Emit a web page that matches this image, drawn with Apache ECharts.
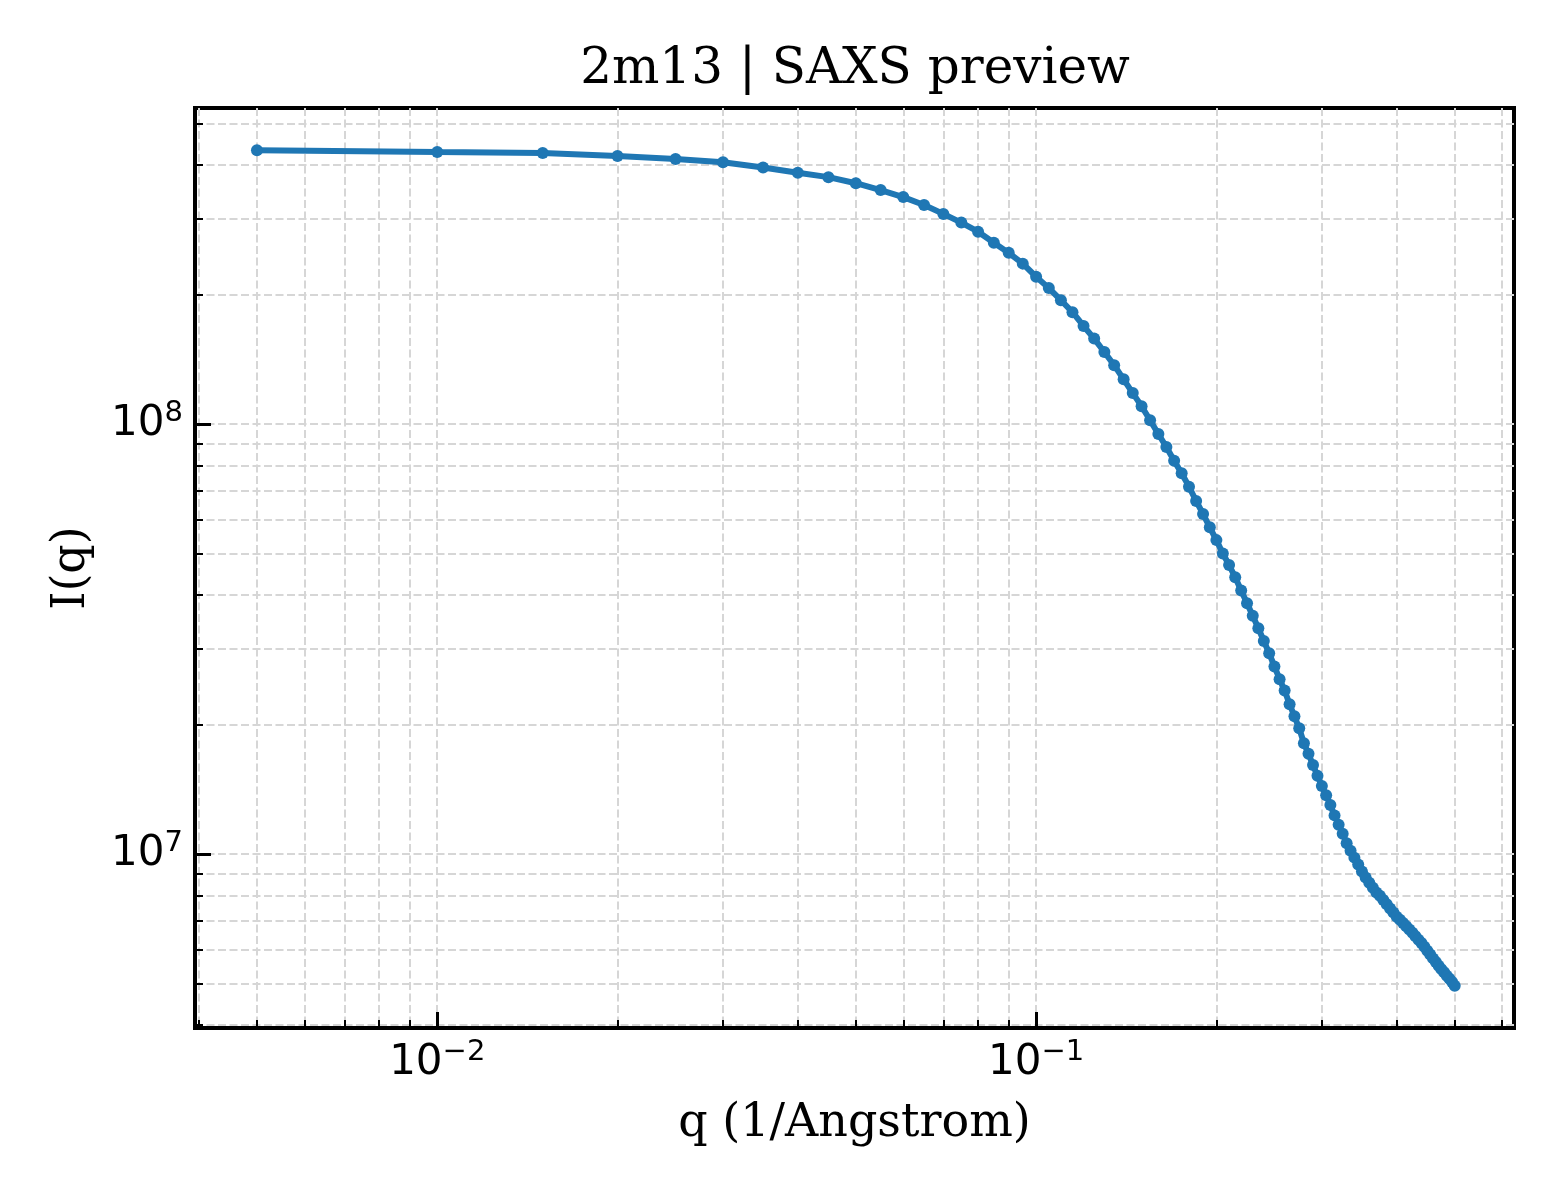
<!DOCTYPE html>
<html style="height: 100%">
<head>
    <meta charset="utf-8">
</head>
<body style="height: 100%; margin: 0; background: #fff">
    <div id="container" style="height: 100%"></div>
    <script type="text/javascript" src="https://cdn.jsdelivr.net/npm/echarts@6/dist/echarts.min.js"></script>
    <script type="text/javascript">
        // q in 1/Angstrom, I(q)
        var qValues = [
            0.005, 0.010, 0.015, 0.020, 0.025, 0.030, 0.035, 0.040, 0.045, 0.050,
            0.055, 0.060, 0.065, 0.070, 0.075, 0.080, 0.085, 0.090, 0.095, 0.100,
            0.105, 0.110, 0.115, 0.120, 0.125, 0.130, 0.135, 0.140, 0.145, 0.150,
            0.155, 0.160, 0.165, 0.170, 0.175, 0.180, 0.185, 0.190, 0.195, 0.200,
            0.205, 0.210, 0.215, 0.220, 0.225, 0.230, 0.235, 0.240, 0.245, 0.250,
            0.255, 0.260, 0.265, 0.270, 0.275, 0.280, 0.285, 0.290, 0.295, 0.300,
            0.305, 0.310, 0.315, 0.320, 0.325, 0.330, 0.335, 0.340, 0.345, 0.350,
            0.355, 0.360, 0.365, 0.370, 0.375, 0.380, 0.385, 0.390, 0.395, 0.400,
            0.405, 0.410, 0.415, 0.420, 0.425, 0.430, 0.435, 0.440, 0.445, 0.450,
            0.455, 0.460, 0.465, 0.470, 0.475, 0.480, 0.485, 0.490, 0.495, 0.500
        ];
        var intensity = [
            4.33e8, 4.29e8, 4.27e8, 4.20e8, 4.13e8, 4.06e8, 3.95e8, 3.84e8, 3.75e8, 3.63e8,
            3.50e8, 3.37e8, 3.23e8, 3.08e8, 2.94e8, 2.80e8, 2.64e8, 2.50e8, 2.36e8, 2.20e8,
            2.07e8, 1.94e8, 1.82e8, 1.69e8, 1.58e8, 1.47e8, 1.37e8, 1.27e8, 1.18e8, 1.10e8,
            1.02e8, 9.48e7, 8.84e7, 8.21e7, 7.68e7, 7.15e7, 6.62e7, 6.18e7, 5.75e7, 5.37e7,
            5.00e7, 4.70e7, 4.40e7, 4.10e7, 3.83e7, 3.58e7, 3.35e7, 3.13e7, 2.93e7, 2.73e7,
            2.55e7, 2.40e7, 2.23e7, 2.09e7, 1.96e7, 1.81e7, 1.71e7, 1.61e7, 1.52e7, 1.44e7,
            1.37e7, 1.30e7, 1.23e7, 1.17e7, 1.115e7, 1.06e7, 1.018e7, 9.81e6, 9.45e6, 9.11e6,
            8.82e6, 8.57e6, 8.35e6, 8.14e6, 8.00e6, 7.82e6, 7.64e6, 7.47e6, 7.31e6, 7.15e6,
            7.03e6, 6.91e6, 6.79e6, 6.68e6, 6.56e6, 6.44e6, 6.32e6, 6.21e6, 6.09e6, 5.96e6,
            5.84e6, 5.72e6, 5.61e6, 5.50e6, 5.40e6, 5.31e6, 5.21e6, 5.13e6, 5.04e6, 4.94e6
        ];

        var xRange = [0.00394, 0.628];
        var yRange = [3.94e6, 5.43e8];
        var xMajorTicks = [0.01, 0.1];
        var xMinorTicks = [0.004, 0.005, 0.006, 0.007, 0.008, 0.009,
            0.02, 0.03, 0.04, 0.05, 0.06, 0.07, 0.08, 0.09,
            0.2, 0.3, 0.4, 0.5, 0.6];
        var yMajorTicks = [1e7, 1e8];
        var yMinorTicks = [4e6, 5e6, 6e6, 7e6, 8e6, 9e6,
            2e7, 3e7, 4e7, 5e7, 6e7, 7e7, 8e7, 9e7,
            2e8, 3e8, 4e8, 5e8];

        var points = qValues.map(function (q, i) { return [q, intensity[i]]; });

        var serif = 'DejaVu Serif';
        var gridLine = { color: '#d6d6d6', width: 2, type: [8, 3.5] };
        var plotBox = { left: 195, top: 108, right: 46, bottom: 172 };

        function powLabel(v) {
            var e = Math.round(Math.log(v) / Math.LN10);
            return '{b|10}{sup|' + String(e).replace('-', '\u2212') + '}';
        }

        function logAxis(range, position, ticks, major, gridIndex) {
            return {
                type: 'log',
                logBase: 10,
                gridIndex: gridIndex,
                min: range[0],
                max: range[1],
                position: position,
                axisLine: { show: major, onZero: false, lineStyle: { color: '#000', width: 4 } },
                axisTick: {
                    show: true, inside: true, customValues: ticks,
                    length: major ? 16 : 8,
                    lineStyle: { color: '#000', width: major ? 3 : 2 }
                },
                axisLabel: {
                    show: major,
                    customValues: ticks,
                    margin: position === 'bottom' ? 10 : 12,
                    formatter: powLabel,
                    rich: {
                        b: { fontFamily: 'DejaVu Sans', fontSize: 42, color: '#000' },
                        sup: { fontFamily: 'DejaVu Sans', fontSize: 29, color: '#000', padding: [0, 0, 22, 0] }
                    }
                },
                splitLine: { show: true, lineStyle: gridLine },
                minorTick: { show: false },
                minorSplitLine: { show: false }
            };
        }

        var xMain = logAxis(xRange, 'bottom', xMajorTicks, true, 0);
        xMain.name = 'q (1/Angstrom)';
        xMain.nameLocation = 'middle';
        xMain.nameGap = 73;
        xMain.nameTextStyle = { fontFamily: serif, fontSize: 46, color: '#000' };

        var yMain = logAxis(yRange, 'left', yMajorTicks, true, 0);
        yMain.name = 'I(q)';
        yMain.nameLocation = 'middle';
        yMain.nameGap = 100;
        yMain.nameRotate = 90;
        yMain.nameTextStyle = { fontFamily: serif, fontSize: 46, color: '#000' };

        var dom = document.getElementById('container');
        var myChart = echarts.init(dom);
        var option = {
            backgroundColor: '#fff',
            animation: false,
            title: {
                text: '2m13 | SAXS preview',
                left: 850,
                textAlign: 'center',
                top: 40,
                textStyle: { fontFamily: serif, fontSize: 50, fontWeight: 'normal', color: '#000' }
            },
            grid: [
                { left: plotBox.left, top: plotBox.top, right: plotBox.right, bottom: plotBox.bottom,
                  show: true, borderColor: '#000', borderWidth: 4, backgroundColor: 'transparent' },
                { left: plotBox.left, top: plotBox.top, right: plotBox.right, bottom: plotBox.bottom }
            ],
            xAxis: [xMain, logAxis(xRange, 'bottom', xMinorTicks, false, 1)],
            yAxis: [yMain, logAxis(yRange, 'left', yMinorTicks, false, 1)],
            series: [
                {
                    name: 'I(q)',
                    type: 'line',
                    xAxisIndex: 0,
                    yAxisIndex: 0,
                    data: points,
                    symbol: 'circle',
                    symbolSize: 12,
                    showSymbol: true,
                    lineStyle: { color: '#1f77b4', width: 6 },
                    itemStyle: { color: '#1f77b4' },
                    z: 5
                }
            ]
        };

        myChart.setOption(option, true);
    </script>
</body>
</html>
